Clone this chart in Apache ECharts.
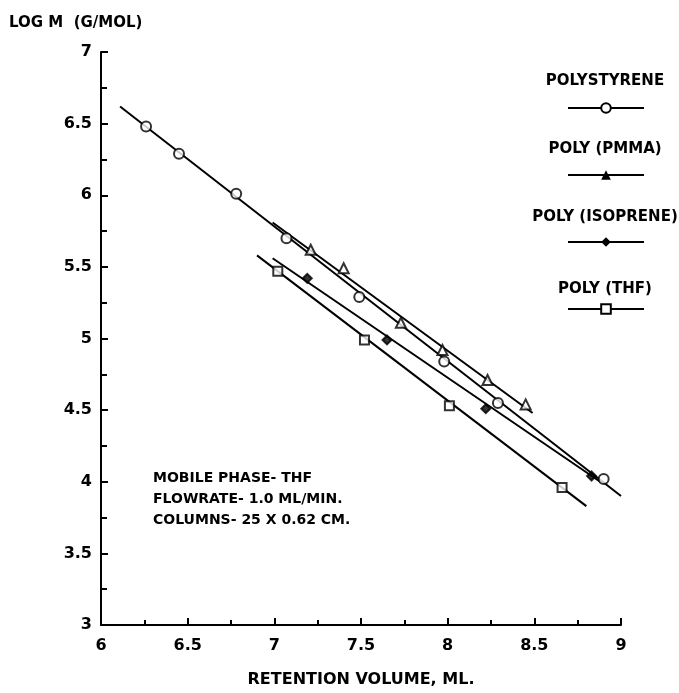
<!DOCTYPE html>
<html>
<head>
<meta charset="utf-8">
<script src="https://cdn.jsdelivr.net/npm/echarts@6/dist/echarts.min.js"></script>
<style>
  html, body { margin: 0; padding: 0; background: #fff; }
  #main { width: 679px; height: 693px; }
</style>
</head>
<body>
<div id="main"></div>
<script>
// polymer names (legend order)
var names = ['POLYSTYRENE', 'POLY (PMMA)', 'POLY (ISOPRENE)', 'POLY (THF)'];

// measured points [retention volume, log M]
var polystyrene = [[6.26, 6.48], [6.45, 6.29], [6.78, 6.01], [7.07, 5.70], [7.49, 5.29], [7.98, 4.84], [8.29, 4.55], [8.90, 4.02]];
var pmma = [[7.21, 5.62], [7.40, 5.49], [7.73, 5.11], [7.97, 4.92], [8.23, 4.71], [8.45, 4.54]];
var isoprene = [[7.19, 5.42], [7.65, 4.99], [8.22, 4.51], [8.83, 4.04]];
var thf = [[7.02, 5.47], [7.52, 4.99], [8.01, 4.53], [8.66, 3.96]];

// calibration lines, start and end
var polystyreneFit = [[6.11, 6.62], [9.0, 3.90]];
var pmmaFit = [[6.99, 5.81], [8.49, 4.48]];
var isopreneFit = [[6.99, 5.56], [8.88, 4.00]];
var thfFit = [[6.90, 5.58], [8.80, 3.83]];

var notes = ['MOBILE PHASE- THF', 'FLOWRATE- 1.0 ML/MIN.', 'COLUMNS- 25 X 0.62 CM.'];

var font = 'DejaVu Sans';
var ink = '#000';

var points = [polystyrene, pmma, isoprene, thf];
var fits = [polystyreneFit, pmmaFit, isopreneFit, thfFit];
var symbols = ['emptyCircle', 'emptyTriangle', 'diamond', 'emptyRect'];
var legendSymbols = ['emptyCircle', 'triangle', 'diamond', 'emptyRect'];
var symbolSizes = [10, 10, 9, 9];

var chart = echarts.init(document.getElementById('main'));

var series = [];
names.forEach(function (name, i) {
  // fit line first so the legend icon comes from it
  series.push({
    name: name,
    type: 'line',
    data: fits[i],
    symbol: legendSymbols[i],
    symbolSize: symbolSizes[i],
    showSymbol: false,
    silent: true,
    clip: false,
    color: ink,
    lineStyle: { color: ink, width: 2 },
    z: 2
  });
  series.push({
    name: name,
    type: 'scatter',
    data: points[i],
    symbol: symbols[i],
    symbolSize: symbolSizes[i],
    itemStyle: { color: ink, borderColor: ink, borderWidth: 2 },
    z: 3
  });
});

var legendLineY = [108, 175, 242, 309];
var legendLabelY = [81, 149, 217, 289];

var legends = names.map(function (name, i) {
  return {
    data: [name],
    left: 567,
    top: legendLineY[i] - 6,
    padding: 0,
    itemWidth: 76,
    itemHeight: 12,
    selectedMode: false,
    formatter: function () { return ''; },
    lineStyle: { width: 2 }
  };
});

var graphics = names.map(function (name, i) {
  return {
    type: 'text',
    x: 605,
    y: legendLabelY[i],
    style: {
      text: name,
      font: 'bold 15px "' + font + '"',
      fill: ink,
      align: 'center',
      verticalAlign: 'middle'
    }
  };
});

graphics.push({
  type: 'text',
  x: 9,
  y: 23,
  style: {
    text: 'LOG M  (G/MOL)',
    font: 'bold 15px "' + font + '"',
    fill: ink,
    align: 'left',
    verticalAlign: 'middle'
  }
});

graphics.push({
  type: 'text',
  x: 153,
  y: 468,
  style: {
    text: notes.join('\n'),
    font: 'bold 14px "' + font + '"',
    lineHeight: 21,
    fill: ink,
    align: 'left',
    verticalAlign: 'top'
  }
});

var option = {
  backgroundColor: '#fff',
  animation: false,
  grid: { left: 101, right: 58, top: 52, bottom: 64 },
  legend: legends,
  graphic: graphics,
  xAxis: {
    type: 'value',
    min: 6,
    max: 9,
    interval: 0.5,
    name: 'RETENTION VOLUME, ML.',
    nameLocation: 'middle',
    nameGap: 47,
    nameTextStyle: { fontFamily: font, fontWeight: 'bold', fontSize: 16, color: ink },
    axisLine: { lineStyle: { color: ink, width: 2 } },
    axisTick: { inside: true, length: 7, lineStyle: { color: ink, width: 2 } },
    minorTick: { show: true, splitNumber: 2, length: 5, lineStyle: { color: ink, width: 2 } },
    axisLabel: {
      margin: 13,
      fontFamily: font, fontWeight: 'bold', fontSize: 16, color: ink,
      formatter: function (v) { return String(+v.toFixed(1)); }
    },
    splitLine: { show: false }
  },
  yAxis: {
    type: 'value',
    min: 3,
    max: 7,
    interval: 0.5,
    axisLine: { show: true, lineStyle: { color: ink, width: 2 } },
    axisTick: { show: true, inside: true, length: 7, lineStyle: { color: ink, width: 2 } },
    minorTick: { show: true, splitNumber: 2, length: 6, lineStyle: { color: ink, width: 2 } },
    axisLabel: {
      margin: 9,
      fontFamily: font, fontWeight: 'bold', fontSize: 16, color: ink,
      formatter: function (v) { return String(+v.toFixed(1)); }
    },
    splitLine: { show: false }
  },
  series: series
};

option && chart.setOption(option);
</script>
</body>
</html>
